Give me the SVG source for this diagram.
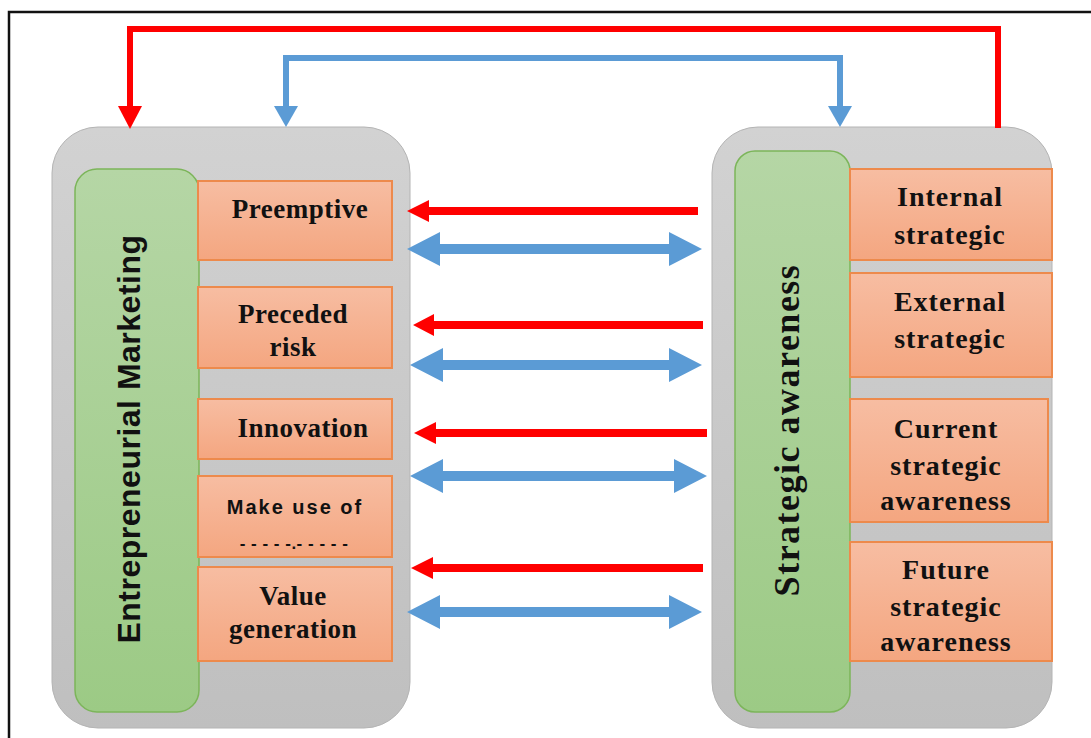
<svg xmlns="http://www.w3.org/2000/svg" width="1091" height="738" viewBox="0 0 1091 738">
<defs>
<linearGradient id="gGray" x1="0" y1="0" x2="0" y2="1"><stop offset="0" stop-color="#d2d2d2"/><stop offset="1" stop-color="#bfbfbf"/></linearGradient>
<linearGradient id="gGreen" x1="0" y1="0" x2="0" y2="1"><stop offset="0" stop-color="#b5d6a5"/><stop offset="1" stop-color="#9cca85"/></linearGradient>
<linearGradient id="gOrange" x1="0" y1="0" x2="0" y2="1"><stop offset="0" stop-color="#f7bda2"/><stop offset="1" stop-color="#f4a680"/></linearGradient>
<style>
.cont{fill:url(#gGray);stroke:#b4b4b4;stroke-width:1}
.green{fill:url(#gGreen);stroke:#7cb55a;stroke-width:1.5}
.box{fill:url(#gOrange);stroke:#ed8a4c;stroke-width:2}
.t{font-family:"Liberation Serif","Times New Roman",serif;font-weight:bold;font-size:27px;letter-spacing:0.5px;fill:#111;text-anchor:middle}
.tr{font-family:"Liberation Serif","Times New Roman",serif;font-weight:bold;font-size:28px;letter-spacing:1px;fill:#111;text-anchor:middle}
.s{font-family:"Liberation Sans",Arial,sans-serif;font-weight:bold;fill:#111;text-anchor:middle}
.red{fill:#ff0000}
.blue{fill:#5b9bd5}
</style>
</defs>
<rect x="9" y="12" width="1090" height="740" fill="#fff" stroke="#111" stroke-width="2.5"/>

<g id="left-group">
<rect class="cont" x="52" y="127" width="358" height="601" rx="46"/>
<g id="entrepreneurial-marketing">
<rect class="green" x="75" y="169" width="124" height="543" rx="22"/>
<text class="s" style="font-size:32px;letter-spacing:0.5px" transform="translate(140,439) rotate(-90)">Entrepreneurial Marketing</text>
</g>
<g id="preemptive"><rect class="box" x="198" y="181" width="194" height="79"/><text class="t" x="300" y="218">Preemptive</text></g>
<g id="preceded-risk"><rect class="box" x="198" y="287" width="194" height="81"/><text class="t" x="293" y="323">Preceded</text><text class="t" x="293" y="356">risk</text></g>
<g id="innovation"><rect class="box" x="198" y="399" width="194" height="60"/><text class="t" x="303" y="437">Innovation</text></g>
<g id="make-use-of"><rect class="box" x="198" y="476" width="194" height="81"/><text class="s" style="font-size:20px;letter-spacing:2px" x="295" y="514">Make use of</text><text class="s" style="font-size:17px;letter-spacing:0.5px" x="294" y="549">- - - - -.- - - - -</text></g>
<g id="value-generation"><rect class="box" x="198" y="567" width="194" height="94"/><text class="t" x="293" y="605">Value</text><text class="t" x="293" y="638">generation</text></g>
</g>

<g id="right-group">
<rect class="cont" x="712" y="127" width="340" height="601" rx="46"/>
<g id="strategic-awareness">
<rect class="green" x="735" y="151" width="115" height="561" rx="20"/>
<text class="tr" style="font-size:36px;letter-spacing:1.5px" transform="translate(799,430) rotate(-90)">Strategic awareness</text>
</g>
<g id="internal-strategic"><rect class="box" x="850" y="169" width="202" height="91"/><text class="tr" x="950" y="206">Internal</text><text class="tr" x="950" y="244">strategic</text></g>
<g id="external-strategic"><rect class="box" x="850" y="273" width="202" height="104"/><text class="tr" x="950" y="311">External</text><text class="tr" x="950" y="348">strategic</text></g>
<g id="current-strategic-awareness"><rect class="box" x="850" y="399" width="198" height="123"/><text class="tr" x="946" y="438">Current</text><text class="tr" x="946" y="475">strategic</text><text class="tr" x="946" y="510">awareness</text></g>
<g id="future-strategic-awareness"><rect class="box" x="850" y="542" width="202" height="119"/><text class="tr" x="946" y="579">Future</text><text class="tr" x="946" y="616">strategic</text><text class="tr" x="946" y="651">awareness</text></g>
</g>

<g id="connectors">
<path d="M998,128 V29 H130 V108" fill="none" stroke="#ff0000" stroke-width="6"/>
<polygon class="red" points="118,106 142,106 130,129"/>
<path d="M840,106 V58 H286 V106" fill="none" stroke="#5b9bd5" stroke-width="6"/>
<polygon class="blue" points="274,106 298,106 286,127"/>
<polygon class="blue" points="828,106 852,106 840,127"/>
<path class="red" d="M698,207 H429 V200 L407,211 L429,222 V215 H698 Z"/>
<path class="red" d="M703,321 H434 V314 L413,325 L434,336 V329 H703 Z"/>
<path class="red" d="M707,429 H436 V422 L414,433 L436,444 V437 H707 Z"/>
<path class="red" d="M703,564 H433 V557 L411,568 L433,579 V572 H703 Z"/>
<path class="blue" d="M407,249 L440,232 V244 H669 V232 L702,249 L669,266 V254 H440 V266 Z"/>
<path class="blue" d="M410,365 L443,348 V360 H669 V348 L702,365 L669,382 V370 H443 V382 Z"/>
<path class="blue" d="M410,476 L443,459 V471 H674 V459 L707,476 L674,493 V481 H443 V493 Z"/>
<path class="blue" d="M407,612 L440,595 V607 H669 V595 L702,612 L669,629 V617 H440 V629 Z"/>
</g>
</svg>
